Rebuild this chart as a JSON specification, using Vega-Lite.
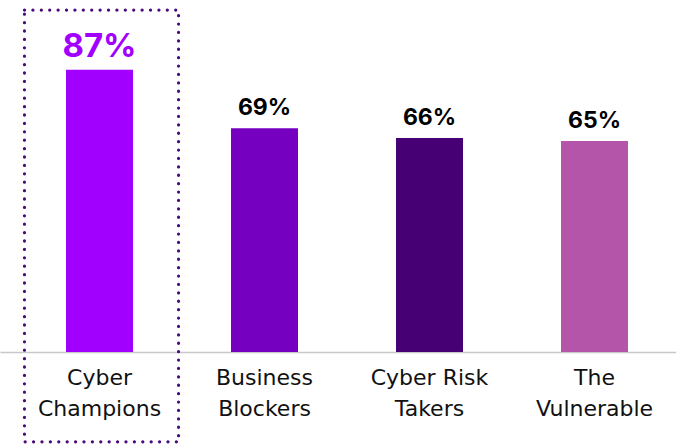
{
  "$schema": "https://vega.github.io/schema/vega-lite/v6.json",
  "width": 676,
  "height": 352,
  "autosize": "none",
  "padding": {"top": 0, "left": 0, "right": 0, "bottom": 92},
  "background": "white",
  "config": {"view": {"stroke": null}},
  "data": {"values": [
    {"category": "Cyber Champions", "value": 87},
    {"category": "Business Blockers", "value": 69},
    {"category": "Cyber Risk Takers", "value": 66},
    {"category": "The Vulnerable", "value": 65}
  ]},
  "encoding": {
    "x": {
      "field": "category", "type": "nominal", "sort": null,
      "scale": {"paddingInner": 0.594, "paddingOuter": 0.3455, "align": 0.579},
      "axis": {
        "title": null, "labelAngle": 0, "ticks": false,
        "domainColor": "#c8c8c8", "domainWidth": 1.5,
        "labelFont": "DejaVu Sans", "labelFontSize": 22, "labelColor": "#111111",
        "labelLineHeight": 31, "labelPadding": 15, "labelBaseline": "top",
        "labelExpr": "datum.value == 'Cyber Risk Takers' ? ['Cyber Risk', 'Takers'] : datum.value == 'The Vulnerable' ? ['The', 'Vulnerable'] : split(datum.value, ' ')"
      }
    },
    "y": {"field": "value", "type": "quantitative", "scale": {"domain": [0, 108.5]}, "axis": null}
  },
  "layer": [
    {
      "transform": [{"filter": "datum.category == 'Cyber Champions'"}],
      "mark": {"type": "bar", "fill": "transparent", "stroke": "#4B0A7D", "strokeWidth": 3.2, "strokeDash": [0.1, 8.3], "strokeCap": "round", "width": {"band": 2.3}, "xOffset": 2, "clip": false},
      "encoding": {
        "y": {"datum": 105.4},
        "y2": {"datum": -27.7}
      }
    },
    {
      "mark": {"type": "bar"},
      "encoding": {
        "color": {
          "field": "category", "type": "nominal", "legend": null,
          "scale": {"domain": ["Cyber Champions", "Business Blockers", "Cyber Risk Takers", "The Vulnerable"],
                    "range": ["#A100FF", "#7500C0", "#460073", "#B455AA"]}
        }
      }
    },
    {
      "transform": [{"calculate": "datum.value + '%'", "as": "label"}],
      "mark": {"type": "text", "font": "Inter", "fontWeight": "bold", "baseline": "alphabetic", "dy": -13},
      "encoding": {
        "text": {"field": "label", "type": "nominal"},
        "size": {"condition": {"test": "datum.category == 'Cyber Champions'", "value": 33}, "value": 23},
        "color": {"condition": {"test": "datum.category == 'Cyber Champions'", "value": "#A100FF"}, "value": "#000000"}
      }
    }
  ]
}
